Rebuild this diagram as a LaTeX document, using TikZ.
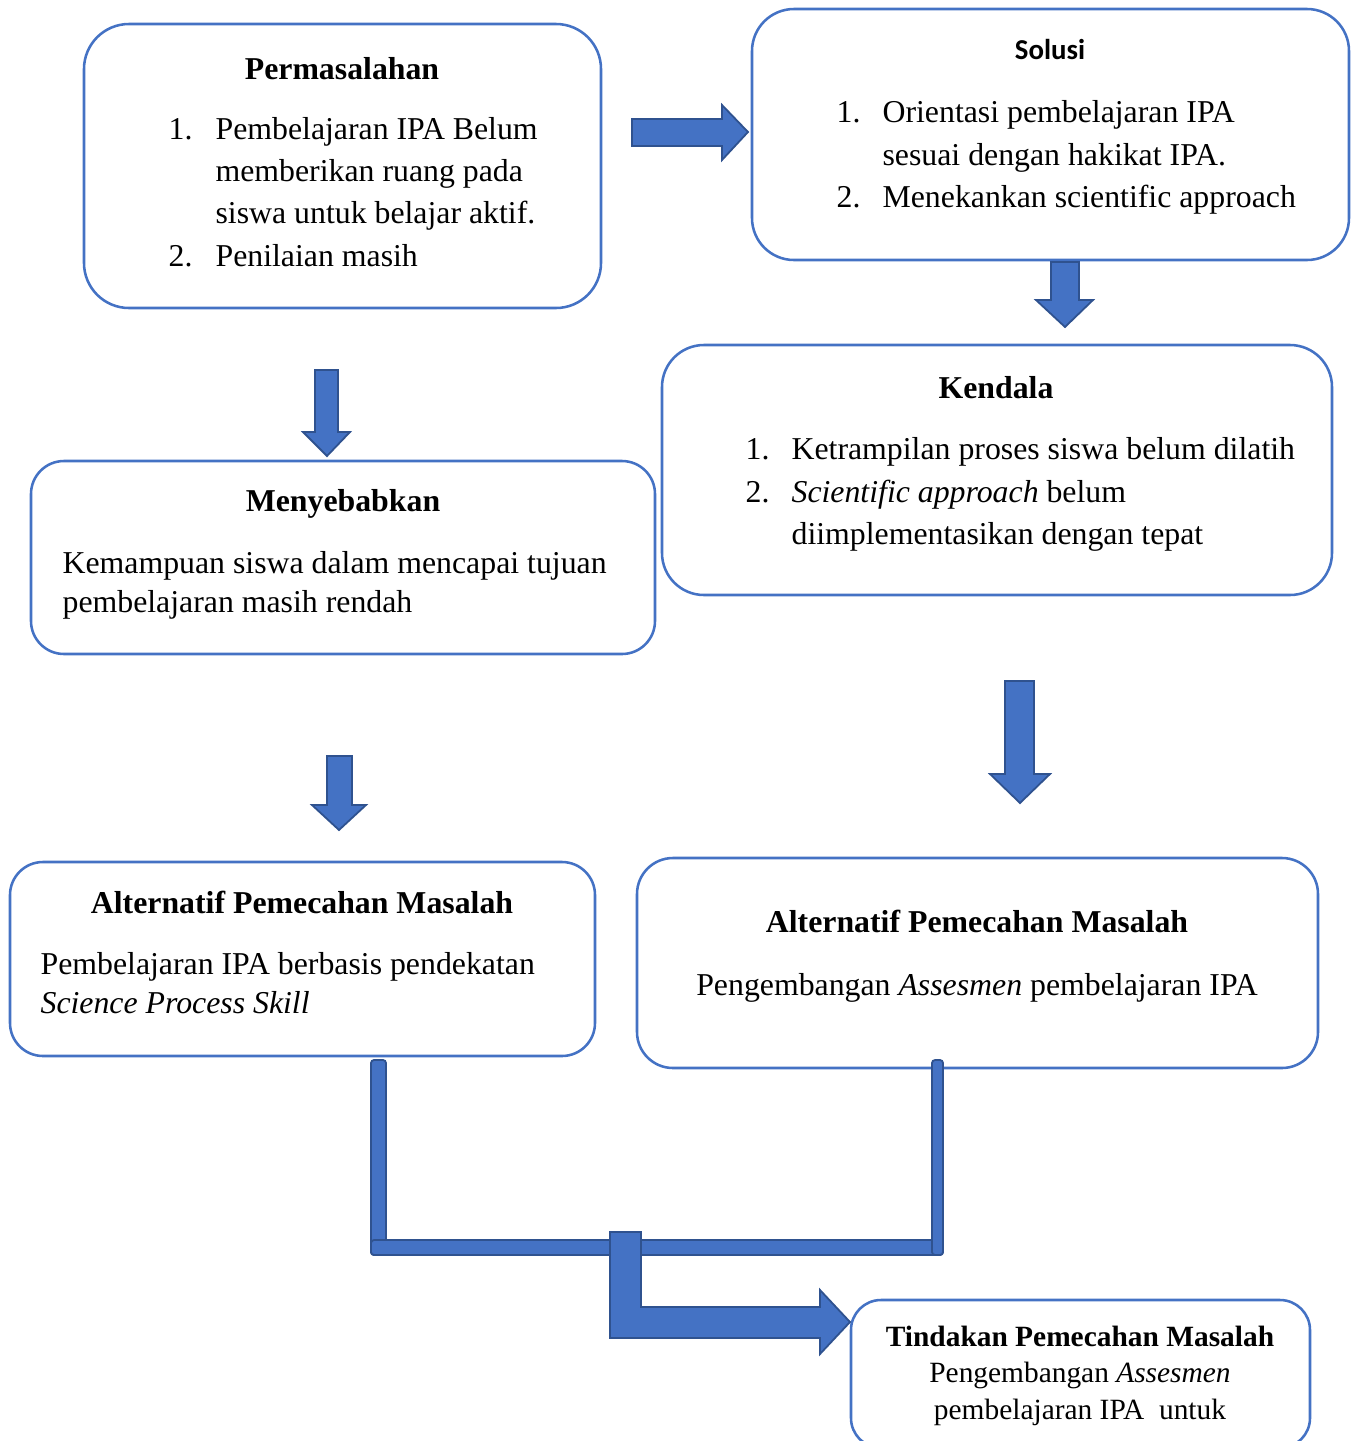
\documentclass[tikz,border=0pt]{standalone}
\usepackage{fontspec}
\setmainfont{Liberation Serif}
\newfontfamily\calibri{Carlito}
\usetikzlibrary{positioning}
\definecolor{boxblue}{HTML}{4472C4}
\definecolor{arrowfill}{HTML}{4472C4}
\definecolor{arrowedge}{HTML}{2F528F}
\tikzset{
  panel/.style={draw=boxblue, line width=0.85pt},
  blockarrow/.style={fill=arrowfill, draw=arrowedge, line width=0.6pt, line join=miter},
  title/.style={font=\fontsize{10.6}{13}\selectfont\bfseries, anchor=base, inner sep=0},
  txt/.style={font=\fontsize{10.6}{13}\selectfont, anchor=base west, inner sep=0},
  small/.style={font=\fontsize{9.8}{12}\selectfont, anchor=base, inner sep=0}
}

\begin{document}
\begin{tikzpicture}[x=0.3333pt, y=-0.3333pt]
  \useasboundingbox (0,0) rectangle (1355,1441);
  \clip (0,0) rectangle (1355,1441);

  % boxes
  \draw[panel, rounded corners=15pt] (84,24) rectangle (601,308);
  \draw[panel, rounded corners=14pt] (752,9) rectangle (1349,260);
  \draw[panel, rounded corners=14pt] (662,345) rectangle (1332,595);
  \draw[panel, rounded corners=11pt] (31,461) rectangle (655,654);
  \draw[panel, rounded corners=11pt] (10,862) rectangle (595,1056);
  \draw[panel, rounded corners=12pt] (637,858) rectangle (1318,1068);
  \draw[panel, rounded corners=10pt] (851,1300) rectangle (1310,1448);

  % Permasalahan
  \node[title] (masalah) at (342,79) {Permasalahan};
  \node[txt] (masalah-n1) at (168,139) {1.};
  \node[txt] (masalah-n2) at (168,266) {2.};
  \foreach \txt/\yy [count=\i] in {Pembelajaran IPA Belum/139, memberikan ruang pada/181,
      siswa untuk belajar aktif./223, Penilaian masih/266} {
    \node[txt] (masalah-\i) at (215,\yy) {\txt};
  }

  % Solusi
  \node[anchor=base, inner sep=0, font=\calibri\fontsize{9.6}{12}\selectfont\bfseries] (solusi) at (1050,59) {Solusi};
  \node[txt] (solusi-n1) at (836,122) {1.};
  \node[txt] (solusi-n2) at (836,207) {2.};
  \foreach \txt/\yy [count=\i] in {Orientasi pembelajaran IPA/122, sesuai dengan hakikat IPA./165,
      Menekankan scientific approach/207} {
    \node[txt] (solusi-\i) at (882,\yy) {\txt};
  }

  % Kendala
  \node[title] (kendala) at (996,398) {Kendala};
  \node[txt] (kendala-n1) at (745,459) {1.};
  \node[txt] (kendala-n2) at (745,502) {2.};
  \foreach \txt/\yy [count=\i] in {Ketrampilan proses siswa belum dilatih/459,
      \textit{Scientific approach} belum/502, diimplementasikan dengan tepat/544} {
    \node[txt] (kendala-\i) at (791,\yy) {\txt};
  }

  % Menyebabkan
  \node[title] (sebab) at (343,511) {Menyebabkan};
  \node[txt] (sebab-1) at (62,573) {Kemampuan siswa dalam mencapai tujuan};
  \node[txt] (sebab-2) at (62,612) {pembelajaran masih rendah};

  % Alternatif kiri
  \node[title] (altkiri) at (302,913) {Alternatif Pemecahan Masalah};
  \node[txt] (altkiri-1) at (40,974) {Pembelajaran IPA berbasis pendekatan};
  \node[txt] (altkiri-2) at (40,1013) {\textit{Science Process Skill}};

  % Alternatif kanan
  \node[title] (altkanan) at (977,932) {Alternatif Pemecahan Masalah};
  \node[txt, anchor=base] (altkanan-1) at (977,995) {Pengembangan \textit{Assesmen} pembelajaran IPA};

  % Tindakan
  \node[small, font=\fontsize{9.8}{12}\selectfont\bfseries] (tindakan) at (1080,1346) {Tindakan Pemecahan Masalah};
  \node[small] (tindakan-1) at (1080,1382) {Pengembangan \textit{Assesmen}};
  \node[small] (tindakan-2) at (1080,1419) {pembelajaran IPA\ \ untuk};

  % block arrows
  \draw[blockarrow] (632,119) -- (722,119) -- (722,105) -- (748,132) -- (722,160) -- (722,146) -- (632,146) -- cycle;
  \draw[blockarrow] (1051,262) -- (1079,262) -- (1079,300) -- (1093,300) -- (1065,327) -- (1036,300) -- (1051,300) -- cycle;
  \draw[blockarrow] (315,370) -- (338,370) -- (338,432) -- (350,432) -- (327,456) -- (303,432) -- (315,432) -- cycle;
  \draw[blockarrow] (1005,681) -- (1034,681) -- (1034,774) -- (1050,774) -- (1020,803) -- (990,774) -- (1005,774) -- cycle;
  \draw[blockarrow] (327,756) -- (352,756) -- (352,805) -- (366,805) -- (339,830) -- (312,805) -- (327,805) -- cycle;

  % joining bars
  \draw[blockarrow, rounded corners=1pt] (371,1060) rectangle (386,1255);
  \draw[blockarrow, rounded corners=1pt] (371,1240) rectangle (943,1255);
  \draw[blockarrow, rounded corners=1pt] (932,1060) rectangle (943,1255);
  \draw[blockarrow] (610,1232) -- (641,1232) -- (641,1307) -- (820,1307) -- (820,1290) -- (850,1322)
    -- (820,1354) -- (820,1338) -- (610,1338) -- cycle;
\end{tikzpicture}
\end{document}
